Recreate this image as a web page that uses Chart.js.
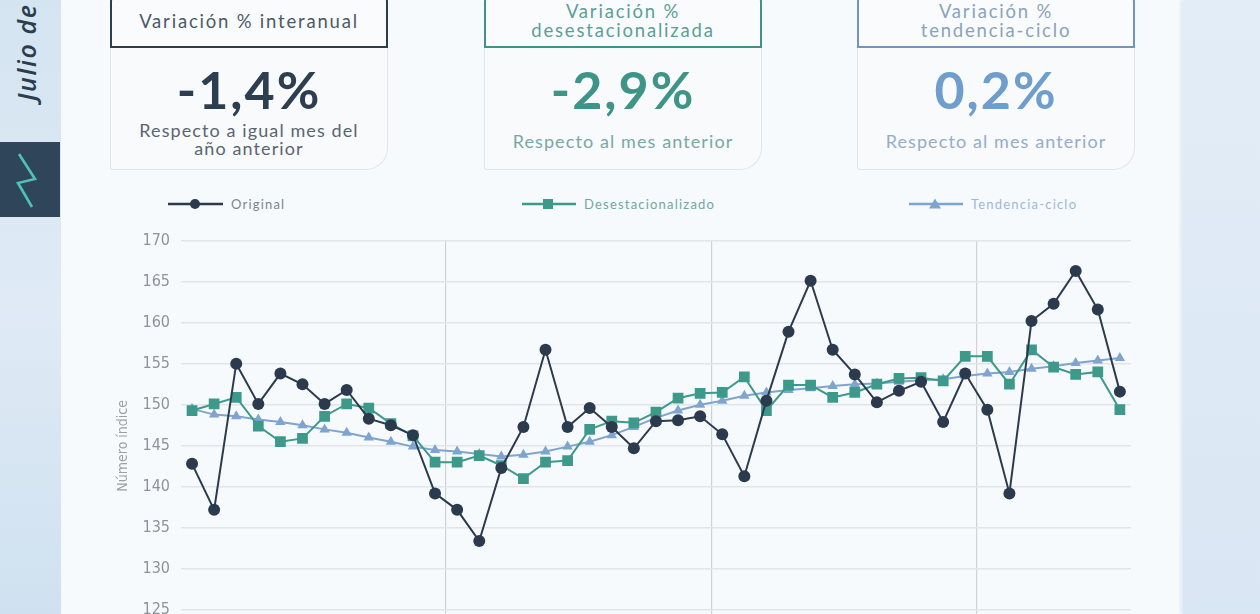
<!DOCTYPE html>
<html lang="es">
<head>
<meta charset="utf-8">
<script src="https://cdn.jsdelivr.net/npm/chart.js@4.4.1/dist/chart.umd.min.js"></script>
<style>
  html,body{margin:0;padding:0;width:1260px;height:614px;overflow:hidden;background:#f6f9fc;font-family:Lato,"Noto Sans",sans-serif;}
  #sidebar{position:absolute;left:0;top:0;width:61px;height:614px;background:linear-gradient(180deg,#d4e4f1 0%,#dfeaf5 50%,#cfe1f0 100%);}
  #sidebar .date{position:absolute;left:26px;top:101px;transform-origin:0 0;transform:rotate(-90deg) translateY(-50%);white-space:nowrap;font-style:italic;font-weight:600;font-size:25px;letter-spacing:1.6px;color:#2c3d50;font-family:"Open Sans",Lato,sans-serif;line-height:30px;}
  #sidebar .icon{position:absolute;left:0;top:142px;width:60px;height:75px;background:#2f4559;}
  #rightpanel{position:absolute;left:1183px;top:0;width:77px;height:614px;background:linear-gradient(180deg,#e3edf7 0%,#d9e6f3 100%);box-shadow:-2px 0 4px rgba(180,200,220,0.4);}
  #main{position:absolute;left:63px;top:0;width:1120px;height:614px;background:#f7fafd;}
  .card{position:absolute;top:0;width:278px;height:170px;}
  .hdr{position:absolute;left:0;top:-14px;width:278px;height:62px;box-sizing:border-box;border:2px solid;border-radius:16px 16px 0 0;background:#f9fbfd;display:flex;align-items:center;justify-content:center;text-align:center;padding-top:8px;font-size:18.5px;line-height:19px;letter-spacing:1.8px;}
  .body{position:absolute;left:0;top:48px;width:278px;height:122px;box-sizing:border-box;border:1.5px solid #e1e5e9;border-top:none;border-radius:0 0 22px 3px;background:#f8fafc;}
  .num{position:absolute;left:0;width:100%;text-align:center;top:59px;font-size:52px;font-weight:700;line-height:60px;letter-spacing:2px;}
  .sub{position:absolute;left:0;width:100%;text-align:center;font-size:18px;line-height:18px;letter-spacing:1.1px;}
  #legend{position:absolute;left:0;top:194px;width:1260px;height:20px;font-size:13px;}
  .lg{position:absolute;top:0;height:20px;display:flex;align-items:center;}
  .lg svg{display:block;}
  .lg span{margin-left:8px;letter-spacing:1.2px;}
  #chartbox{position:absolute;left:100px;top:220px;width:1043px;height:471px;}
</style>
</head>
<body>
<div id="main"></div>
<div id="sidebar">
  <div class="date">Julio de 2024</div>
  <div class="icon">
    <svg width="60" height="75" viewBox="0 0 60 75"><polyline points="19,12 35,37 18,41 32,65" fill="none" stroke="#4fc2b6" stroke-width="2.6" stroke-linejoin="miter"/></svg>
  </div>
</div>
<div id="rightpanel"></div>

<div class="card" style="left:110px">
  <div class="hdr" style="border-color:#2d3d50;color:#4d5966;">Variación % interanual</div>
  <div class="body"></div>
  <div class="num" style="color:#2e3e51;">-1,4%</div>
  <div class="sub" style="top:121px;color:#5b6570;">Respecto a igual mes del<br>año anterior</div>
</div>
<div class="card" style="left:484px">
  <div class="hdr" style="border-color:#3f9288;color:#5c9f96;">Variación %<br>desestacionalizada</div>
  <div class="body"></div>
  <div class="num" style="color:#3e9487;">-2,9%</div>
  <div class="sub" style="top:132px;color:#77a9a2;">Respecto al mes anterior</div>
</div>
<div class="card" style="left:857px">
  <div class="hdr" style="border-color:#7195bd;color:#8aa3bd;">Variación %<br>tendencia-ciclo</div>
  <div class="body"></div>
  <div class="num" style="color:#6f9dcc;">0,2%</div>
  <div class="sub" style="top:132px;color:#93adc9;">Respecto al mes anterior</div>
</div>

<div id="legend">
  <div class="lg" style="left:168px;">
    <svg width="55" height="14"><line x1="0" y1="7" x2="55" y2="7" stroke="#2b3a4d" stroke-width="2.5"/><circle cx="27" cy="7" r="5" fill="#2b3a4d"/></svg>
    <span style="color:#7c858e;">Original</span>
  </div>
  <div class="lg" style="left:522px;">
    <svg width="54" height="14"><line x1="0" y1="7" x2="54" y2="7" stroke="#3d9a8b" stroke-width="2.5"/><rect x="21" y="2" width="10" height="10" fill="#3d9a8b"/></svg>
    <span style="color:#6ea99f;">Desestacionalizado</span>
  </div>
  <div class="lg" style="left:909px;">
    <svg width="54" height="14"><line x1="0" y1="7" x2="54" y2="7" stroke="#7ea4cf" stroke-width="2.5"/><polygon points="26,1.5 32,11.5 20,11.5" fill="#7ea4cf"/></svg>
    <span style="color:#9cb8d7;">Tendencia-ciclo</span>
  </div>
</div>

<div id="chartbox"><canvas id="c"></canvas></div>

<script>
const months = ["ene","feb","mar","abr","may","jun","jul","ago","sep","oct","nov","dic"];
const years = ["21","22","23","24"];
const categories = [];
for (let y = 0; y < years.length; y++) {
  for (let m = 0; m < 12; m++) {
    if (y === 3 && m > 6) break;
    categories.push(months[m] + " " + years[y]);
  }
}

const original = [
  142.8,137.2,155.0,150.1,153.8,152.5,150.1,151.8,148.3,147.5,146.3,139.2,
  137.2,133.4,142.3,147.3,156.7,147.3,149.6,147.3,144.7,148.0,148.1,148.6,
  146.4,141.3,150.5,158.9,165.1,156.7,153.7,150.3,151.7,152.8,147.9,153.8,
  149.4,139.2,160.2,162.3,166.3,161.6,151.6
];
const desestacionalizado = [
  149.3,150.1,150.9,147.4,145.5,145.9,148.6,150.1,149.6,147.7,146.2,143.0,
  143.0,143.8,142.6,141.0,143.0,143.2,147.0,148.0,147.8,149.1,150.8,151.4,
  151.5,153.4,149.3,152.4,152.4,150.9,151.5,152.5,153.2,153.3,152.9,155.9,
  155.9,152.5,156.7,154.6,153.7,154.0,149.4
];
const tendenciaCiclo = [
  149.5,148.8,148.6,148.2,147.9,147.5,147.0,146.6,146.0,145.5,144.9,144.5,
  144.3,144.0,143.7,143.9,144.3,144.9,145.5,146.3,147.3,148.4,149.3,150.0,
  150.5,151.1,151.5,151.8,152.0,152.3,152.5,152.6,152.8,153.0,153.1,153.5,
  153.8,154.0,154.4,154.7,155.1,155.4,155.7
];
const yTicks = [120,125,130,135,140,145,150,155,160,165,170];

const tickFont = {family:"'Liberation Sans Narrow','DejaVu Sans Condensed','Roboto',sans-serif", size:16};

new Chart(document.getElementById('c'), {
  type: 'line',
  data: {
    labels: categories,
    datasets: [
      {label:'Original', data: original, borderColor:'#2b3a4d', backgroundColor:'#2b3a4d',
       borderWidth:2, pointStyle:'circle', pointRadius:6, pointBorderWidth:0, tension:0},
      {label:'Desestacionalizado', data: desestacionalizado, borderColor:'#3d9a8b', backgroundColor:'#3d9a8b',
       borderWidth:2, pointStyle:'rect', pointRadius:7.6, pointBorderWidth:0, tension:0},
      {label:'Tendencia-ciclo', data: tendenciaCiclo, borderColor:'#7ea4cf', backgroundColor:'#7ea4cf',
       borderWidth:2, pointStyle:'triangle', pointRadius:6, pointBorderWidth:0, tension:0}
    ]
  },
  options: {
    responsive:true, maintainAspectRatio:false, animation:false,
    layout:{padding:{top:0,right:10,left:0,bottom:0}},
    plugins:{legend:{display:false}, tooltip:{enabled:false}},
    scales:{
      x:{
        offset:true,
        grid:{offset:true, drawTicks:false,
          color:(ctx)=> (ctx.index !== undefined && ctx.index>0 && ctx.index%12===0 && ctx.index<categories.length) ? '#cdd2d7' : 'rgba(0,0,0,0)',
          lineWidth:1.2},
        border:{display:false},
        ticks:{color:'#8e9399', font:tickFont, maxRotation:0, autoSkip:false,
          callback:(v,i)=> i%6===0 ? categories[i] : ''},
        afterFit:(s)=>{ s.height = 40; }
      },
      y:{
        min:120, max:170,
        afterBuildTicks:(s)=>{ s.ticks = yTicks.map(v=>({value:v})); },
        grid:{color:'#e1e5e9', lineWidth:1.5, drawTicks:false},
        border:{display:false},
        ticks:{color:'#8e9399', font:tickFont, padding:11},
        title:{display:true, text:'Número índice', color:'#9aa0a6',
          font:{family:"'Liberation Sans Narrow','DejaVu Sans Condensed','Roboto',sans-serif", size:14},
          padding:{top:15,bottom:0}},
        afterFit:(s)=>{ s.width = 81; }
      }
    }
  }
});
</script>
</body>
</html>
